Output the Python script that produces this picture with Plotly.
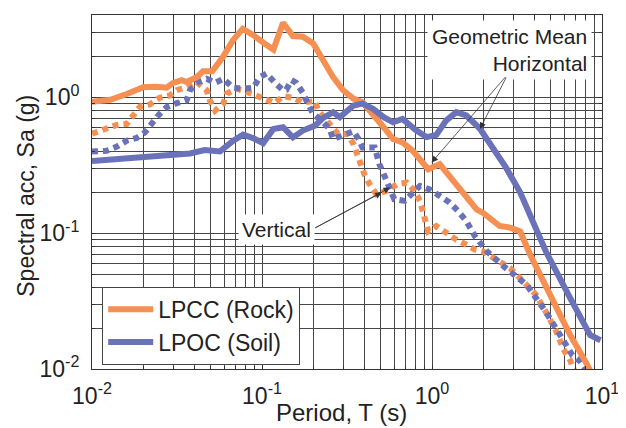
import plotly.graph_objects as go

# ---------------- data ----------------
rock_h_T = [0.01, 0.0128, 0.016, 0.02, 0.024, 0.0275, 0.03, 0.0337, 0.036, 0.0413, 0.045, 0.051,
            0.059, 0.0675, 0.077, 0.088, 0.1065, 0.1167, 0.133, 0.152, 0.174, 0.2, 0.229, 0.262,
            0.3, 0.345, 0.39, 0.45, 0.52, 0.59, 0.67, 0.77, 0.95, 1.11, 1.34, 1.53, 1.83, 2.0,
            2.5, 2.88, 3.3, 3.78, 4.5, 5.4, 6.5, 8.1, 9.0]
rock_h_Sa = [0.93, 0.96, 1.06, 1.19, 1.2, 1.18, 1.28, 1.34, 1.3, 1.41, 1.56, 1.56,
             1.99, 2.64, 3.2, 2.9, 2.43, 2.25, 3.55, 2.83, 2.8, 2.5, 1.88, 1.41,
             1.13, 0.98, 0.92, 0.757, 0.603, 0.494, 0.467, 0.405, 0.296, 0.323, 0.243, 0.193, 0.15, 0.141,
             0.113, 0.11, 0.103, 0.0695, 0.044, 0.028, 0.0178, 0.011, 0.0085]

soil_h_T = [0.01, 0.014, 0.02, 0.03, 0.0377, 0.046, 0.0566, 0.0678, 0.0775, 0.089, 0.1016, 0.1167,
            0.133, 0.152, 0.174, 0.205, 0.229, 0.262, 0.287, 0.345, 0.39, 0.45, 0.52, 0.59, 0.67,
            0.81, 0.93, 1.06, 1.21, 1.39, 1.59, 1.91, 2.28, 2.72, 3.3, 4.67, 6.5, 8.5, 9.8]
soil_h_Sa = [0.34, 0.352, 0.368, 0.378, 0.387, 0.41, 0.40, 0.48, 0.532, 0.5, 0.46, 0.586,
             0.603, 0.508, 0.57, 0.62, 0.707, 0.778, 0.715, 0.872, 0.9, 0.824, 0.715, 0.656, 0.695,
             0.57, 0.51, 0.53, 0.675, 0.778, 0.736, 0.59, 0.428, 0.305, 0.2, 0.0736, 0.0332, 0.0178, 0.0163]

rock_v_T = [0.01, 0.0122, 0.014, 0.016, 0.0175, 0.0192, 0.0219, 0.025, 0.0287, 0.0315, 0.036, 0.0413,
            0.0473, 0.0494, 0.053, 0.0591, 0.062, 0.0708, 0.081, 0.093, 0.104, 0.119, 0.133, 0.152,
            0.174, 0.205, 0.214, 0.24, 0.28, 0.32, 0.345, 0.375, 0.40, 0.43, 0.47, 0.54, 0.62, 0.71,
            0.79, 0.85, 0.89, 0.95, 1.06, 1.21, 1.39, 1.59, 1.79, 1.99, 2.4, 2.88, 3.45, 4.1, 4.67,
            5.4, 5.9, 6.5, 6.9]
rock_v_Sa = [0.54, 0.586, 0.628, 0.638, 0.736, 0.858, 0.888, 0.995, 1.035, 1.13, 1.19, 1.3,
             1.13, 0.95, 0.8, 0.9, 1.065, 1.16, 1.1, 1.035, 0.98, 0.91, 1.02, 0.995,
             0.92, 0.94, 0.8, 0.675, 0.538, 0.538, 0.454, 0.341, 0.272, 0.229, 0.194, 0.205, 0.229, 0.236,
             0.205, 0.173, 0.141, 0.1035, 0.113, 0.1, 0.0897, 0.0824, 0.0757, 0.0736, 0.0638, 0.0553, 0.044, 0.0351, 0.0264,
             0.0188, 0.0141, 0.0116, 0.0095]

soil_v_T = [0.01, 0.0122, 0.014, 0.016, 0.0183, 0.0205, 0.0245, 0.0275, 0.0315, 0.036, 0.0377, 0.0422,
            0.0473, 0.053, 0.059, 0.0678, 0.0775, 0.089, 0.097, 0.1065, 0.119, 0.133, 0.139, 0.149,
            0.159, 0.174, 0.187, 0.2, 0.224, 0.25, 0.262, 0.3, 0.345, 0.37, 0.39, 0.46, 0.49, 0.53,
            0.6, 0.69, 0.76, 0.85, 0.97, 1.11, 1.27, 1.42, 1.59, 1.79, 2.1, 2.72, 3.6, 4.67, 5.6,
            6.7, 7.5, 8.2]
soil_v_Sa = [0.40, 0.405, 0.434, 0.48, 0.503, 0.553, 0.736, 0.848, 0.907, 0.95, 1.13, 1.3,
             1.37, 1.28, 1.37, 1.18, 1.16, 1.18, 1.41, 1.5, 1.28, 1.13, 1.14, 1.34,
             1.28, 1.08, 0.888, 0.757, 0.675, 0.586, 0.494, 0.523, 0.563, 0.494, 0.428, 0.428, 0.323, 0.257,
             0.178, 0.173, 0.193, 0.223, 0.21, 0.188, 0.168, 0.146, 0.123, 0.095, 0.0736, 0.0553, 0.0417, 0.0264, 0.0178,
             0.0126, 0.0113, 0.0095]

legend_names = ["LPCC (Rock)", "LPOC (Soil)"]
x_title = "Period, T (s)"
y_title = "Spectral acc, Sa (g)"
x_major = [0.01, 0.1, 1.0, 10.0]
x_major_text = ["10<sup>-2</sup>", "10<sup>-1</sup>", "10<sup>0</sup>", "10<sup>1</sup>"]
y_major = [0.01, 0.1, 1.0]
y_major_text = ["10<sup>-2</sup>", "10<sup>-1</sup>", "10<sup>0</sup>"]
x_minor = [m * 10.0 ** e for e in (-2, -1, 0) for m in range(2, 10)]
y_minor = [m * 10.0 ** e for e in (-2, -1, 0) for m in range(2, 10)]

ORANGE = "#F58F52"
BLUE = "#6A72BA"
FONT = "Liberation Sans, Arial"
GRID = "#474747"

fig = go.Figure()
fig.add_trace(go.Scatter(x=rock_v_T, y=rock_v_Sa, mode="lines", showlegend=False,
                         line=dict(color=ORANGE, width=6, dash="6px,5px")))
fig.add_trace(go.Scatter(x=soil_v_T, y=soil_v_Sa, mode="lines", showlegend=False,
                         line=dict(color=BLUE, width=6, dash="6px,5px")))
fig.add_trace(go.Scatter(x=rock_h_T, y=rock_h_Sa, mode="lines", name=legend_names[0],
                         line=dict(color=ORANGE, width=6)))
fig.add_trace(go.Scatter(x=soil_h_T, y=soil_h_Sa, mode="lines", name=legend_names[1],
                         line=dict(color=BLUE, width=6)))

axis_common = dict(type="log", showgrid=True, gridcolor=GRID, gridwidth=1, automargin=False,
                   showline=True, linecolor="#333", linewidth=1, mirror="allticks",
                   ticks="inside", ticklen=4, tickcolor="#333", zeroline=False,
                   tickfont=dict(family=FONT, size=23, color="#222"))

fig.update_xaxes(range=[-2, 1], tickmode="array", tickvals=x_major, ticktext=x_major_text,
                 ticklabelstandoff=6,
                 minor=dict(tickmode="array", tickvals=x_minor, showgrid=True, gridcolor=GRID,
                            gridwidth=1, ticks="inside", ticklen=3, tickcolor="#333"),
                 **axis_common)
fig.update_yaxes(range=[-2, 0.607], tickmode="array", tickvals=y_major, ticktext=y_major_text,
                 ticklabelstandoff=7,
                 minor=dict(tickmode="array", tickvals=y_minor, showgrid=True, gridcolor=GRID,
                            gridwidth=1, ticks="inside", ticklen=3, tickcolor="#333"),
                 **axis_common)

# axis titles as annotations (fixed positions)
fig.add_annotation(xref="paper", yref="paper", x=0.49, y=-0.122, xanchor="center", yanchor="middle",
                   text=x_title, showarrow=False, font=dict(family=FONT, size=24, color="#222"))
fig.add_annotation(xref="paper", yref="paper", x=-0.131, y=0.49, xanchor="center", yanchor="middle",
                   text=y_title, textangle=-90, showarrow=False,
                   font=dict(family=FONT, size=23, color="#222"))

ann_font = dict(family=FONT, size=21, color="#222")
fig.add_annotation(xref="paper", yref="paper", x=0.98, y=0.985, xanchor="right", yanchor="top",
                   text="Geometric Mean<br>Horizontal", align="right", showarrow=False,
                   bgcolor="white", borderpad=4, font=ann_font)
fig.add_annotation(xref="paper", yref="paper", x=0.361, y=0.395, xanchor="center", yanchor="middle",
                   text="Vertical", showarrow=False, bgcolor="white", borderpad=3, font=ann_font)

arrow = dict(showarrow=True, arrowhead=2, arrowsize=1.6, arrowwidth=0.8, arrowcolor="#333", text="")
# Horizontal arrows (head on curve, tail offset in px)
fig.add_annotation(x=0.282, y=-0.232, ax=27, ay=-53, **arrow)
fig.add_annotation(x=-0.002, y=-0.479, ax=75, ay=-87, **arrow)
# Vertical arrows
fig.add_annotation(x=-0.296, y=-0.701, ax=-68, ay=36, **arrow)
fig.add_annotation(x=-0.247, y=-0.664, ax=-76, ay=41, **arrow)

# page body adds an 8px offset; margins compensate so the plot box sits at x 92-602, y 15-369
fig.update_layout(
    width=626, height=428,
    margin=dict(l=84, r=32, t=7, b=67, autoexpand=False),
    paper_bgcolor="white", plot_bgcolor="white",
    legend=dict(x=0.02, y=0.012, xanchor="left", yanchor="bottom",
                bgcolor="white", bordercolor="#444", borderwidth=1,
                font=dict(family=FONT, size=23, color="#222"),
                itemwidth=45, tracegroupgap=0),
)

fig.write_html("out.html")
